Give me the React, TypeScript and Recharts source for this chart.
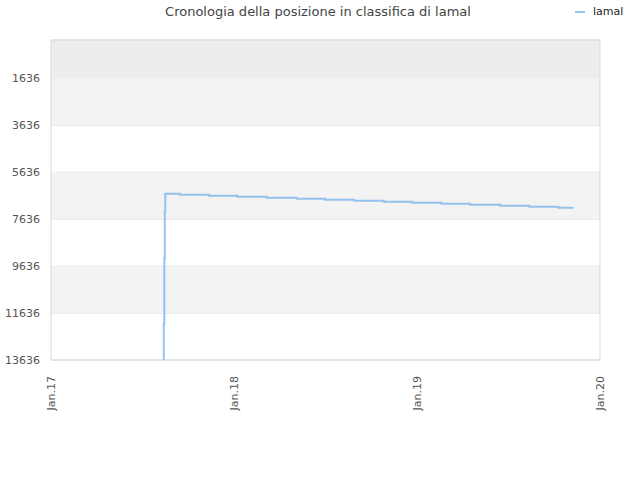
import React from 'react';
import { LineChart, Line, XAxis, YAxis, CartesianGrid, ReferenceArea } from 'recharts';

// rank history of lamal (lower value = better position, axis reversed)
const dates: string[] = [
  '2017-08-13', '2017-08-14', '2017-08-15', '2017-08-16', '2017-08-17',
  '2017-09-15', '2017-11-12', '2018-01-08', '2018-03-07', '2018-05-06',
  '2018-07-02', '2018-08-29', '2018-10-27', '2018-12-23', '2019-02-19',
  '2019-04-17', '2019-06-16', '2019-08-13', '2019-10-10', '2019-11-09',
];
const positions: number[] = [
  13636, 12100, 9300, 7300, 6553,
  6596, 6638, 6681, 6723, 6766,
  6809, 6851, 6894, 6936, 6979,
  7021, 7064, 7106, 7149, 7149,
];
const yTicks: number[] = [1636, 3636, 5636, 7636, 9636, 11636, 13636];
const xTickLabels: string[] = ['Jan.17', 'Jan.18', 'Jan.19', 'Jan.20'];
const xTicks: number[] = [2017, 2018, 2019, 2020].map((y) => Date.UTC(y, 0, 1));
const seriesName = 'lamal';
const title = 'Cronologia della posizione in classifica di lamal';

const data = dates.map((d, i) => ({ t: Date.parse(d + 'T00:00:00Z'), v: positions[i] }));

const FONT = '"DejaVu Sans", sans-serif';
const LINE_COLOR = '#7cb5ec';

const XTick = (props: any) => {
  const { x, y, payload } = props;
  const idx = xTicks.indexOf(payload.value);
  return (
    <text
      x={0}
      y={0}
      transform={`translate(${x + 4},${y + 8}) rotate(-90)`}
      textAnchor="end"
      fontSize={11}
      fill="#555"
      fontFamily={FONT}
    >
      {idx >= 0 ? xTickLabels[idx] : ''}
    </text>
  );
};

export default function App() {
  return (
    <div style={{ position: 'absolute', left: 0, top: 0, width: 640, height: 480, background: '#fff' }}>
      <div
        style={{
          position: 'absolute',
          top: 4,
          left: 0,
          width: 636,
          textAlign: 'center',
          fontFamily: FONT,
          fontSize: 13,
          color: '#444',
        }}
      >
        {title}
      </div>
      <div
        style={{
          position: 'absolute',
          top: 5,
          left: 575,
          display: 'flex',
          alignItems: 'center',
          fontFamily: FONT,
          fontSize: 11,
          color: '#222',
        }}
      >
        <span style={{ display: 'inline-block', width: 10, height: 2, background: LINE_COLOR, opacity: 0.8, marginRight: 8 }} />
        {seriesName}
      </div>
      <LineChart width={640} height={480} data={data} margin={{ top: 40, right: 40, bottom: 0, left: 0 }}>
        <ReferenceArea y1={0} y2={1636} fill="#ededed" fillOpacity={1} />
        <ReferenceArea y1={1636} y2={3636} fill="#f3f3f3" fillOpacity={1} />
        <ReferenceArea y1={5636} y2={7636} fill="#f3f3f3" fillOpacity={1} />
        <ReferenceArea y1={9636} y2={11636} fill="#f3f3f3" fillOpacity={1} />
        <CartesianGrid vertical={false} stroke="#e0e0e0" strokeDasharray="" />
        <ReferenceArea y1={0} y2={13636} fill="none" stroke="#d8d8d8" strokeWidth={1} />
        <XAxis
          dataKey="t"
          type="number"
          scale="time"
          domain={[xTicks[0], xTicks[xTicks.length - 1]]}
          ticks={xTicks}
          tick={<XTick />}
          tickLine={false}
          axisLine={false}
          height={120}
          interval={0}
        />
        <YAxis
          type="number"
          reversed
          domain={[0, 13636]}
          ticks={yTicks}
          allowDataOverflow
          width={51}
          tickLine={false}
          axisLine={false}
          tickSize={0}
          tickMargin={11}
          interval={0}
          tick={{ fontSize: 11, fill: '#555', fontFamily: FONT }}
        />
        <Line
          dataKey="v"
          name={seriesName}
          type="stepAfter"
          stroke={LINE_COLOR}
          strokeOpacity={0.8}
          strokeWidth={2}
          dot={false}
          isAnimationActive={false}
        />
      </LineChart>
    </div>
  );
}
